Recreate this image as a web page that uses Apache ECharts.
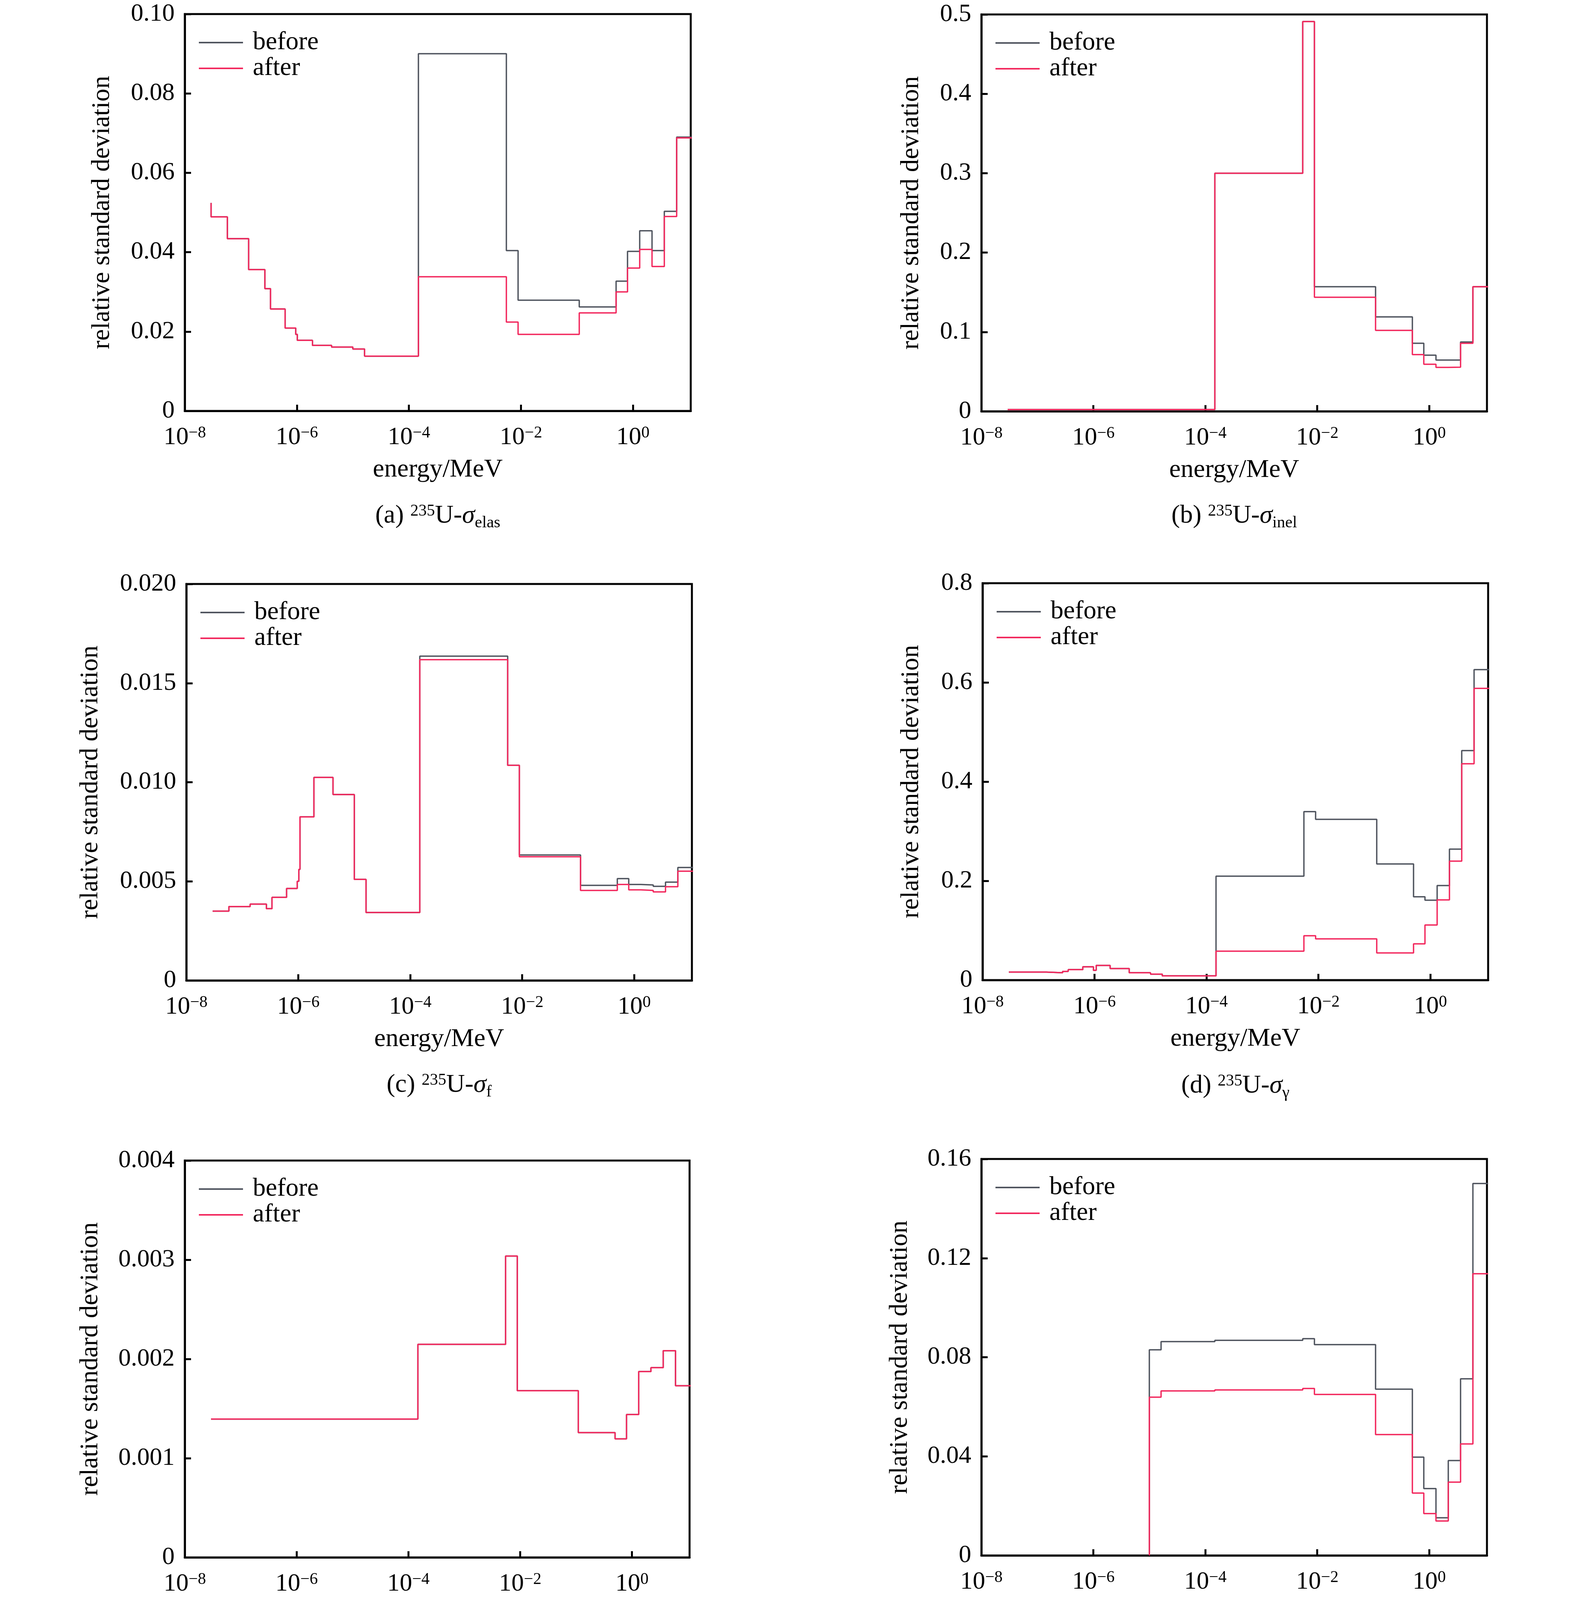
<!DOCTYPE html>
<html>
<head>
<meta charset="utf-8">
<script src="https://cdn.jsdelivr.net/npm/echarts@6/dist/echarts.min.js"></script>
<style>html,body{margin:0;padding:0;background:#fff}#c{width:4016px;height:4302px}</style>
</head>
<body>
<div id="c"></div>
<script>
// ---------------- data ----------------
// energy group boundaries (MeV): lower edges + final upper edge
const groupEdges = [2.95e-8, 5.75e-8, 1.38e-7, 2.69e-7, 3.39e-7, 6.17e-7, 9.55e-7, 1.02e-6, 1.07e-6,
  1.9e-6, 4.17e-6, 1.0e-5, 1.62e-5, 1.48e-4, 5.5e-3, 8.9e-3, 0.11, 0.5, 0.8, 1.32, 2.19, 3.63, 6.03, 20];
const seriesNames = ['before', 'after'];

// (a) elastic
const elasLead = 0.0524;
const elasBefore = [0.0489, 0.0434, 0.0356, 0.0308, 0.0257, 0.0209, 0.0193, 0.0178, 0.0178, 0.0165, 0.0161, 0.0156, 0.0138,
  0.0900, 0.0404, 0.0279, 0.0262, 0.0327, 0.0402, 0.0454, 0.0404, 0.0503, 0.0690];
const elasAfter = [0.0489, 0.0434, 0.0356, 0.0308, 0.0257, 0.0209, 0.0193, 0.0178, 0.0178, 0.0165, 0.0161, 0.0156, 0.0138,
  0.0338, 0.0224, 0.0193, 0.0247, 0.0300, 0.0360, 0.0407, 0.0364, 0.0490, 0.0688];
// (b) inelastic
const inelBefore = [0.0022, 0.0022, 0.0022, 0.0022, 0.0022, 0.0022, 0.0022, 0.0022, 0.0022, 0.0022, 0.0022, 0.0022, 0.0022,
  0.300, 0.491, 0.157, 0.119, 0.0857, 0.0707, 0.0646, 0.0646, 0.0874, 0.157];
const inelAfter = [0.0022, 0.0022, 0.0022, 0.0022, 0.0022, 0.0022, 0.0022, 0.0022, 0.0022, 0.0022, 0.0022, 0.0022, 0.0022,
  0.300, 0.491, 0.1437, 0.102, 0.0715, 0.0593, 0.0554, 0.0556, 0.0857, 0.157];
// (c) fission
const fisBefore = [0.00350, 0.00373, 0.00385, 0.00362, 0.00419, 0.00464, 0.00500, 0.00560, 0.00825, 0.01024, 0.00938, 0.00510, 0.00343,
  0.01636, 0.01085, 0.00633, 0.00480, 0.00514, 0.00484, 0.00482, 0.00475, 0.00496, 0.00570];
const fisAfter = [0.00350, 0.00373, 0.00385, 0.00362, 0.00419, 0.00464, 0.00500, 0.00560, 0.00825, 0.01024, 0.00938, 0.00510, 0.00343,
  0.01618, 0.01085, 0.00624, 0.00454, 0.00484, 0.00457, 0.00454, 0.00447, 0.00473, 0.00551];
// (d) capture
const capBefore = [0.0162, 0.0162, 0.0148, 0.0176, 0.0210, 0.0267, 0.0197, 0.0197, 0.0295, 0.0232, 0.0148, 0.0120, 0.0084,
  0.2095, 0.3395, 0.324, 0.234, 0.168, 0.161, 0.1905, 0.264, 0.4626, 0.6257];
const capAfter = [0.0162, 0.0162, 0.0148, 0.0176, 0.0210, 0.0267, 0.0197, 0.0197, 0.0295, 0.0232, 0.0148, 0.0120, 0.0084,
  0.0583, 0.0893, 0.0830, 0.0548, 0.0731, 0.111, 0.1617, 0.2397, 0.436, 0.588];
// (e) nu_p
const nuBefore = [0.001395, 0.001395, 0.001395, 0.001395, 0.001395, 0.001395, 0.001395, 0.001395, 0.001395, 0.001395, 0.001395, 0.001395, 0.001395,
  0.002148, 0.003037, 0.00168, 0.001258, 0.001195, 0.00144, 0.001873, 0.001912, 0.002084, 0.00173];
const nuAfter = [0.001395, 0.001395, 0.001395, 0.001395, 0.001395, 0.001395, 0.001395, 0.001395, 0.001395, 0.001395, 0.001395, 0.001395, 0.001395,
  0.002148, 0.003037, 0.00168, 0.001258, 0.001195, 0.00144, 0.001873, 0.001912, 0.002084, 0.00173];
// (f) chi_p
const chiLead = 0;
const chiBefore = [null, null, null, null, null, null, null, null, null, null, null,
  0.0830, 0.0863, 0.0868, 0.0875, 0.0851, 0.0671, 0.0397, 0.0270, 0.0152, 0.0383, 0.0713, 0.1501];
const chiAfter = [null, null, null, null, null, null, null, null, null, null, null,
  0.0639, 0.0664, 0.0668, 0.0674, 0.0650, 0.0488, 0.0252, 0.0169, 0.0139, 0.0296, 0.0450, 0.1137];

// y-axis ranges / tick steps
const yMax = [0.10, 0.5, 0.020, 0.8, 0.004, 0.16];
const yStep = [0.02, 0.1, 0.005, 0.2, 0.001, 0.04];
const yDecimals = [2, 1, 3, 1, 3, 2];
const captions = [
  '{n|(a) }{sup|235}{n|U-}{it|σ}{sub|elas}',
  '{n|(b) }{sup|235}{n|U-}{it|σ}{sub|inel}',
  '{n|(c) }{sup|235}{n|U-}{it|σ}{sub|f}',
  '{n|(d) }{sup|235}{n|U-}{it|σ}{sub|γ}',
  '{n|(e) }{sup|235}{n|U-}{it|ν}{sub|p}',
  '{n|(f) }{sup|235}{n|U-}{it|χ}{sub|p}'
];

// ---------------- layout ----------------
const FONT = 'Liberation Serif';
const grids = [
  {left: 473, top: 36, width: 1295, height: 1016},
  {left: 2512, top: 37, width: 1294, height: 1016},
  {left: 477, top: 1495, width: 1294, height: 1015},
  {left: 2515, top: 1493, width: 1294, height: 1016},
  {left: 473, top: 2971, width: 1292, height: 1016},
  {left: 2512, top: 2967, width: 1294, height: 1015}
];
const yNameGap = [178, 146, 212, 149, 208, 175];
const captionY = [1321, 1321, 2778, 2780, 4253, 4255];
const COLOR_BEFORE = '#50555f';
const COLOR_AFTER = '#f2295e';

const panels = [
  {before: elasBefore, after: elasAfter, lead: elasLead},
  {before: inelBefore, after: inelAfter, lead: null},
  {before: fisBefore, after: fisAfter, lead: null},
  {before: capBefore, after: capAfter, lead: null},
  {before: nuBefore, after: nuAfter, lead: null},
  {before: chiBefore, after: chiAfter, lead: chiLead}
];

function stepPoints(values, lead) {
  let first = 0; while (values[first] == null) first++;
  let last = values.length - 1; while (values[last] == null) last--;
  const pts = [];
  if (lead != null) pts.push([groupEdges[first], lead]);
  for (let i = first; i <= last; i++) pts.push([groupEdges[i], values[i]]);
  pts.push([groupEdges[last + 1], values[last]]);
  return pts;
}

const xRich = {
  b: {fontSize: 64, fontFamily: FONT, color: '#000', verticalAlign: 'top', lineHeight: 64},
  s: {fontSize: 42, fontFamily: FONT, color: '#000', verticalAlign: 'top', lineHeight: 42}
};

const option = {
  animation: false,
  backgroundColor: '#fff',
  grid: [], xAxis: [], yAxis: [], series: [], legend: [], graphic: []
};

grids.forEach((g, k) => {
  option.grid.push(Object.assign({show: true, borderColor: '#000', borderWidth: 5, backgroundColor: 'transparent', containLabel: false}, g));
  option.xAxis.push({
    type: 'log', gridIndex: k, min: 1e-8, max: 10.75, interval: 2, logBase: 10,
    name: 'energy/MeV', nameLocation: 'middle', nameGap: 118,
    nameTextStyle: {fontSize: 66, fontFamily: FONT, color: '#000'},
    axisLine: {show: true, onZero: false, lineStyle: {color: '#000', width: 5}},
    axisTick: {show: true, inside: true, length: 16, lineStyle: {color: '#000', width: 5}},
    minorTick: {show: false}, splitLine: {show: false}, minorSplitLine: {show: false},
    axisLabel: {
      margin: 36, showMaxLabel: false,
      formatter: function (v) {
        const e = Math.log10(v);
        const r = Math.round(e);
        if (Math.abs(e - r) > 1e-6 || r > 0) return '';
        return '{b|10}{s|' + (r < 0 ? '−' + (-r) : String(r)) + '}';
      },
      rich: xRich
    }
  });
  option.yAxis.push({
    type: 'value', gridIndex: k, min: 0, max: yMax[k], interval: yStep[k],
    name: 'relative standard deviation', nameLocation: 'middle', nameGap: yNameGap[k], nameRotate: 90,
    nameTextStyle: {fontSize: 66, fontFamily: FONT, color: '#000'},
    axisLine: {show: true, lineStyle: {color: '#000', width: 5}},
    axisTick: {show: true, inside: true, length: 16, lineStyle: {color: '#000', width: 5}},
    splitLine: {show: false},
    axisLabel: {
      margin: 26, fontSize: 64, fontFamily: FONT, color: '#000',
      formatter: function (v) { return v === 0 ? '0' : v.toFixed(yDecimals[k]); }
    }
  });
  const p = panels[k];
  option.series.push({
    name: seriesNames[0], type: 'line', xAxisIndex: k, yAxisIndex: k, step: 'end',
    data: stepPoints(p.before, p.lead), showSymbol: false, symbol: 'none', clip: true, z: 2,
    lineStyle: {color: COLOR_BEFORE, width: 3.5}, itemStyle: {color: COLOR_BEFORE}
  });
  option.series.push({
    name: seriesNames[1], type: 'line', xAxisIndex: k, yAxisIndex: k, step: 'end',
    data: stepPoints(p.after, p.lead), showSymbol: false, symbol: 'none', clip: true, z: 3,
    lineStyle: {color: COLOR_AFTER, width: 3.5}, itemStyle: {color: COLOR_AFTER}
  });
  option.legend.push({
    data: seriesNames, orient: 'vertical', left: g.left + 36, top: g.top + 40,
    icon: 'rect', itemWidth: 113, itemHeight: 4, itemGap: 0, padding: 0,
    selectedMode: false,
    textStyle: {fontSize: 66, fontFamily: FONT, color: '#000', lineHeight: 64, padding: [0, 0, 0, 20]}
  });
  option.graphic.push({
    type: 'text', silent: true,
    style: {
      text: captions[k], x: g.left + g.width / 2, y: captionY[k], align: 'center', verticalAlign: 'middle',
      fill: '#000', fontSize: 66, fontFamily: FONT,
      rich: {
        n: {fontSize: 66, fontFamily: FONT, fill: '#000', verticalAlign: 'top', lineHeight: 66},
        sup: {fontSize: 42, fontFamily: FONT, fill: '#000', verticalAlign: 'top', lineHeight: 42},
        it: {fontSize: 66, fontFamily: FONT, fontStyle: 'italic', fill: '#000', verticalAlign: 'top', lineHeight: 66},
        sub: {fontSize: 42, fontFamily: FONT, fill: '#000', verticalAlign: 'top', lineHeight: 42, padding: [30, 0, 0, 0]}
      }
    }
  });
});

const chart = echarts.init(document.getElementById('c'), null, {renderer: 'canvas'});
chart.setOption(option);
</script>
</body>
</html>
